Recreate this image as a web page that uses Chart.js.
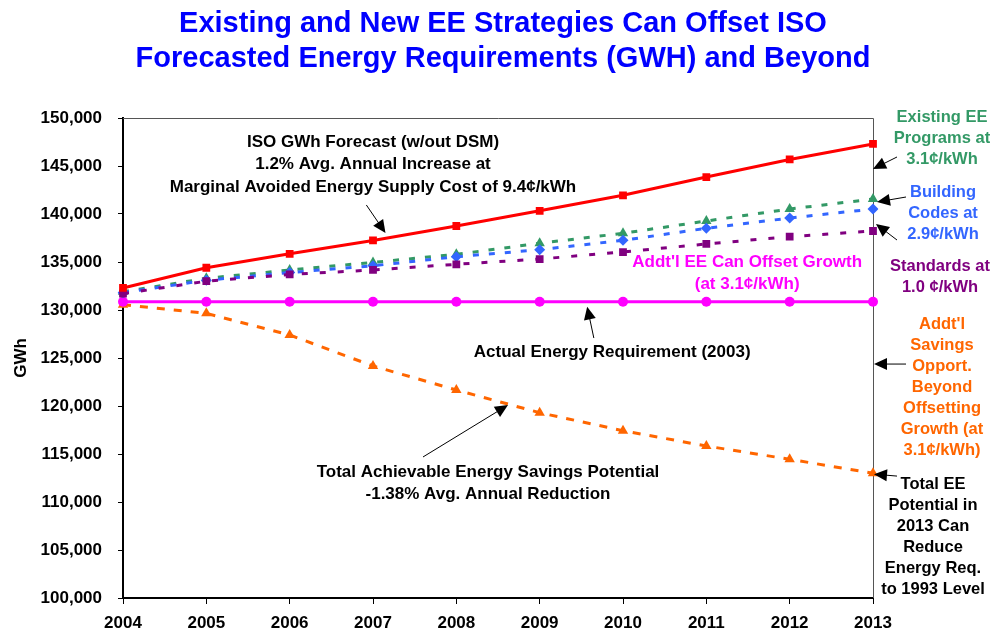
<!DOCTYPE html>
<html>
<head>
<meta charset="utf-8">
<script src="https://cdn.jsdelivr.net/npm/chart.js@4"></script>
<style>
  html, body { margin: 0; padding: 0; background: #fff; }
</style>
</head>
<body>
<canvas id="chart" width="990" height="633"></canvas>
<script>
/* ---- data ---- */
const years = ['2004', '2005', '2006', '2007', '2008', '2009', '2010', '2011', '2012', '2013'];
const isoForecast   = [132300, 134400, 135850, 137250, 138750, 140330, 141950, 143850, 145680, 147300];
const existingEE    = [131900, 133300, 134170, 134960, 135800, 136950, 137990, 139270, 140520, 141560];
const buildingCodes = [131800, 133100, 133900, 134610, 135550, 136280, 137260, 138510, 139580, 140520];
const standards     = [131700, 133000, 133700, 134170, 134760, 135310, 136040, 136880, 137640, 138230];
const actual2003    = [130860, 130860, 130860, 130860, 130860, 130860, 130860, 130860, 130860, 130860];
const achievable    = [130550, 129650, 127400, 124170, 121670, 119300, 117430, 115830, 114450, 112990];

const titleLines = ['Existing and New EE Strategies Can Offset ISO', 'Forecasted Energy Requirements (GWH) and Beyond'];

const FONT = "Arial, 'Liberation Sans', sans-serif";

/* notes inside the plot: x = year index, y = GWh value of first line */
const plotNotes = [
  { lines: ['ISO GWh Forecast (w/out DSM)', '1.2% Avg. Annual Increase at', 'Marginal Avoided Energy Supply Cost of 9.4¢/kWh'],
    color: '#000', x: 3.0, y: 147500, arrow: [2.92, 140940, 3.15, 138020] },
  { lines: ["Addt'l EE Can Offset Growth", '(at 3.1¢/kWh)'],
    color: '#FF00FF', x: 7.49, y: 135000 },
  { lines: ['Actual Energy Requirement (2003)'],
    color: '#000', x: 5.87, y: 125620, arrow: [5.65, 127080, 5.57, 130350] },
  { lines: ['Total Achievable Energy Savings Potential', '-1.38% Avg. Annual Reduction'],
    color: '#000', x: 4.38, y: 113120, arrow: [3.6, 114690, 4.62, 120100] }
];

/* notes right of the plot: dx = px from right edge */
const sideNotes = [
  { lines: ['Existing EE', 'Programs at', '3.1¢/kWh'], color: '#339966', dx: 69, y: 150100, arrow: [24, 145940, 0, 144690] },
  { lines: ['Building', 'Codes at', '2.9¢/kWh'], color: '#3366FF', dx: 70, y: 142290, arrow: [33, 141770, 4, 141250] },
  { lines: ['Standards at', '1.0 ¢/kWh'], color: '#800080', dx: 67, y: 134580, arrow: [24, 137290, 3, 138960] },
  { lines: ["Addt'l", 'Savings', 'Opport.', 'Beyond', 'Offsetting', 'Growth (at', '3.1¢/kWh)'],
    color: '#FF6600', dx: 69, y: 128540, arrow: [33, 124370, 1, 124370] },
  { lines: ['Total EE', 'Potential in', '2013 Can', 'Reduce', 'Energy Req.', 'to 1993 Level'],
    color: '#000', dx: 60, y: 111870, arrow: [24, 112700, 1, 112900] }
];

function drawArrow(ctx, x1, y1, x2, y2) {
  const a = Math.atan2(y2 - y1, x2 - x1), L = 13, W = 6;
  ctx.beginPath();
  ctx.moveTo(x1, y1);
  ctx.lineTo(x2 - L * 0.6 * Math.cos(a), y2 - L * 0.6 * Math.sin(a));
  ctx.stroke();
  ctx.beginPath();
  ctx.moveTo(x2, y2);
  ctx.lineTo(x2 - L * Math.cos(a) + W * Math.sin(a), y2 - L * Math.sin(a) - W * Math.cos(a));
  ctx.lineTo(x2 - L * Math.cos(a) - W * Math.sin(a), y2 - L * Math.sin(a) + W * Math.cos(a));
  ctx.closePath();
  ctx.fill();
}

const notesPlugin = {
  id: 'notes',
  beforeDatasetsDraw(chart) {
    const { ctx, chartArea: ca } = chart;
    ctx.save();
    ctx.strokeStyle = '#555';
    ctx.lineWidth = 1;
    ctx.beginPath();
    ctx.moveTo(ca.left, ca.top + 0.5);
    ctx.lineTo(ca.right + 0.5, ca.top + 0.5);
    ctx.lineTo(ca.right + 0.5, ca.bottom);
    ctx.stroke();
    ctx.restore();
  },
  afterDraw(chart) {
    const { ctx, chartArea: ca } = chart;
    const xs = chart.scales.x, ys = chart.scales.y;
    ctx.save();

    // title
    ctx.fillStyle = '#0000FF';
    ctx.font = 'bold 29px ' + FONT;
    ctx.textAlign = 'center';
    ctx.textBaseline = 'alphabetic';
    titleLines.forEach((t, i) => ctx.fillText(t, 503, 32 + i * 35));

    ctx.textBaseline = 'middle';
    ctx.lineWidth = 1;

    plotNotes.forEach(n => {
      const cx = xs.getPixelForValue(n.x);
      const cy = ys.getPixelForValue(n.y);
      ctx.font = 'bold 17px ' + FONT;
      ctx.fillStyle = n.color;
      n.lines.forEach((t, i) => ctx.fillText(t, cx, cy + i * 22.5));
      if (n.arrow) {
        const [ax, ay, bx, by] = n.arrow;
        ctx.strokeStyle = '#000';
        ctx.fillStyle = '#000';
        drawArrow(ctx, xs.getPixelForValue(ax), ys.getPixelForValue(ay),
                       xs.getPixelForValue(bx), ys.getPixelForValue(by));
      }
    });

    sideNotes.forEach(n => {
      const cx = ca.right + n.dx;
      const cy = ys.getPixelForValue(n.y);
      ctx.font = 'bold 16.5px ' + FONT;
      ctx.fillStyle = n.color;
      n.lines.forEach((t, i) => ctx.fillText(t, cx, cy + i * 21));
      const [ax, ay, bx, by] = n.arrow;
      ctx.strokeStyle = '#000';
      ctx.fillStyle = '#000';
      drawArrow(ctx, ca.right + ax, ys.getPixelForValue(ay), ca.right + bx, ys.getPixelForValue(by));
    });

    ctx.restore();
  }
};

function series(data, color, style, radius, width, dash) {
  return {
    data,
    borderColor: color,
    backgroundColor: color,
    pointBackgroundColor: color,
    pointBorderColor: color,
    pointBorderWidth: 0,
    pointStyle: style,
    pointRadius: radius,
    borderWidth: width,
    borderDash: dash,
    tension: 0,
    fill: false
  };
}

new Chart(document.getElementById('chart'), {
  type: 'line',
  data: {
    labels: years,
    datasets: [
      series(isoForecast,   '#FF0000', 'rect',     5.5, 3, []),
      series(standards,     '#800080', 'rect',     5.5, 3, [6, 12]),
      series(buildingCodes, '#3366FF', 'rectRot',  5.5, 3, [6, 10]),
      series(existingEE,    '#339966', 'triangle', 6,   3, [6, 10]),
      series(actual2003,    '#FF00FF', 'circle',   5,   3, []),
      series(achievable,    '#FF6600', 'triangle', 6,   3, [8, 9])
    ]
  },
  options: {
    responsive: false,
    animation: false,
    layout: { padding: { top: 118, right: 117, bottom: 0, left: 0 } },
    plugins: {
      legend: { display: false },
      title: { display: false },
      tooltip: { enabled: false }
    },
    scales: {
      x: {
        offset: false,
        afterFit(scale) { scale.height = 35; },
        grid: { drawOnChartArea: false, drawTicks: true, tickLength: 6, color: '#000' },
        border: { display: true, color: '#000', width: 2 },
        ticks: { color: '#000', padding: 9, maxRotation: 0, font: { family: FONT, size: 17, weight: 'bold' } }
      },
      y: {
        min: 100000,
        max: 150000,
        afterFit(scale) { scale.width = 123; },
        grid: { drawOnChartArea: false, drawTicks: true, tickLength: 5, color: '#000' },
        border: { display: true, color: '#000', width: 2 },
        ticks: {
          stepSize: 5000,
          color: '#000',
          padding: 16,
          font: { family: FONT, size: 17, weight: 'bold' },
          callback: v => v.toLocaleString('en-US')
        },
        title: {
          display: true,
          text: 'GWh',
          color: '#000',
          align: 'center',
          padding: { top: 11, bottom: 0 },
          font: { family: FONT, size: 17, weight: 'bold' }
        }
      }
    }
  },
  plugins: [notesPlugin]
});
</script>
</body>
</html>
